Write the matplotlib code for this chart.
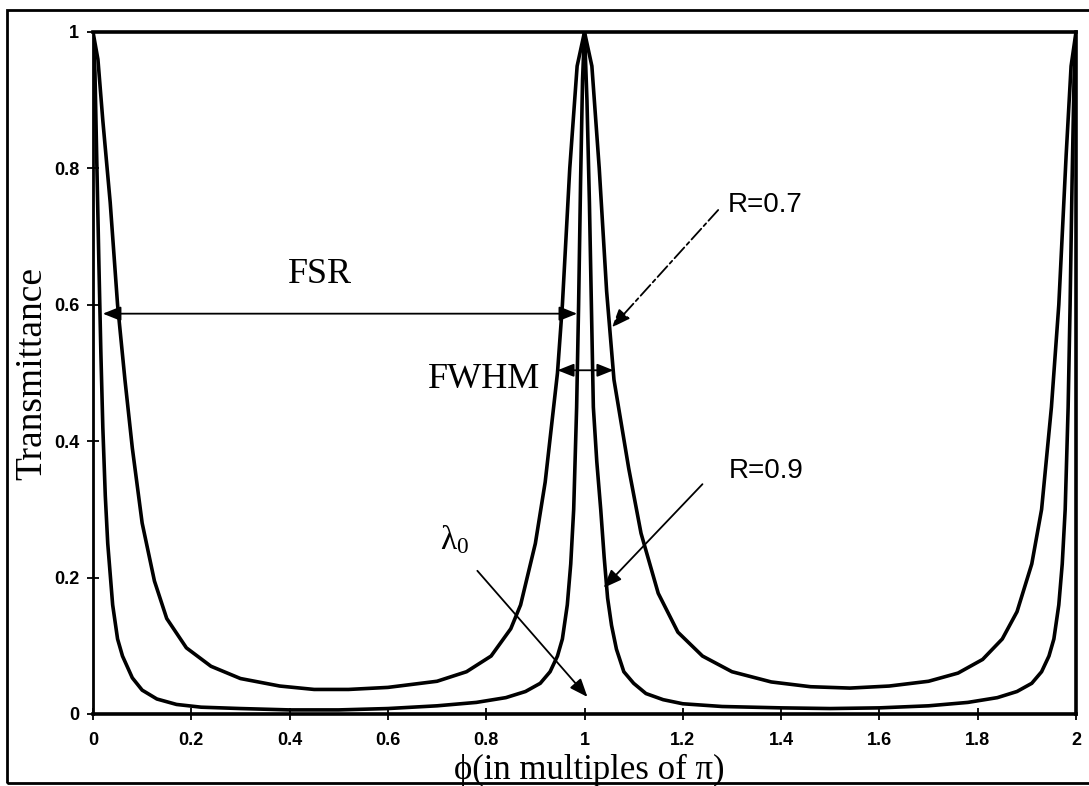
import matplotlib
matplotlib.use("Agg")
import matplotlib.pyplot as plt
from matplotlib.patches import Rectangle

plt.rcParams['mathtext.fontset'] = 'custom'
plt.rcParams['mathtext.rm'] = 'Liberation Serif'
plt.rcParams['mathtext.it'] = 'Liberation Serif'

# values (phase in multiples of pi, transmittance)
phi_r07 = [0, 0.01, 0.02, 0.035, 0.05, 0.065, 0.08, 0.1, 0.125, 0.15, 0.19, 0.24, 0.3,
           0.38, 0.45, 0.52, 0.6, 0.7, 0.76, 0.81, 0.85, 0.87, 0.9, 0.92, 0.945, 0.955,
           0.97, 0.985, 1.0, 1.015, 1.03, 1.045, 1.06, 1.09, 1.115, 1.15, 1.19, 1.24,
           1.3, 1.38, 1.46, 1.54, 1.62, 1.7, 1.76, 1.81, 1.85, 1.88, 1.91, 1.93, 1.95,
           1.965, 1.98, 1.99, 2.0]
t_r07 = [1.0, 0.96, 0.87, 0.75, 0.6, 0.49, 0.39, 0.28, 0.195, 0.14, 0.097, 0.07, 0.052,
         0.041, 0.036, 0.036, 0.039, 0.048, 0.062, 0.085, 0.125, 0.16, 0.25, 0.34, 0.5, 0.6,
         0.8, 0.95, 1.0, 0.95, 0.8, 0.62, 0.49, 0.36, 0.265, 0.177, 0.12, 0.085,
         0.062, 0.047, 0.04, 0.038, 0.041, 0.048, 0.06, 0.08, 0.11, 0.15, 0.22, 0.3, 0.45,
         0.6, 0.82, 0.95, 1.0]

phi_r09 = [0, 0.004, 0.008, 0.012, 0.016, 0.02, 0.025, 0.03, 0.04, 0.05, 0.06, 0.08, 0.1,
           0.13, 0.17, 0.22, 0.3, 0.4, 0.5, 0.6, 0.7, 0.78, 0.84, 0.88, 0.91, 0.93, 0.945,
           0.955, 0.965, 0.972, 0.978, 0.984, 0.988, 0.992, 0.996, 1.0,
           1.005, 1.01, 1.014, 1.018, 1.025, 1.033, 1.04, 1.047, 1.055, 1.065, 1.08, 1.1,
           1.125, 1.16, 1.2, 1.28, 1.4, 1.5, 1.6, 1.7, 1.78, 1.84, 1.88, 1.91, 1.93, 1.945,
           1.955, 1.965, 1.972, 1.978, 1.984, 1.988, 1.992, 1.996, 2.0]
t_r09 = [1.0, 0.94, 0.8, 0.66, 0.53, 0.42, 0.32, 0.25, 0.16, 0.11, 0.085, 0.053, 0.035,
         0.022, 0.014, 0.01, 0.008, 0.006, 0.006, 0.008, 0.012, 0.017, 0.024, 0.033, 0.045,
         0.062, 0.085, 0.11, 0.16, 0.22, 0.3, 0.45, 0.6, 0.78, 0.93, 1.0,
         0.9, 0.75, 0.6, 0.45, 0.37, 0.3, 0.23, 0.17, 0.13, 0.095, 0.062, 0.045,
         0.03, 0.021, 0.015, 0.011, 0.009, 0.008, 0.009, 0.012, 0.017, 0.024, 0.033, 0.045,
         0.062, 0.085, 0.11, 0.16, 0.22, 0.3, 0.45, 0.6, 0.78, 0.93, 1.0]

xticks = [0, 0.2, 0.4, 0.6, 0.8, 1, 1.2, 1.4, 1.6, 1.8, 2]
xtick_labels = ['0', '0.2', '0.4', '0.6', '0.8', '1', '1.2', '1.4', '1.6', '1.8', '2']
yticks = [0, 0.2, 0.4, 0.6, 0.8, 1]
ytick_labels = ['0', '0.2', '0.4', '0.6', '0.8', '1']

serif = ['Liberation Serif', 'DejaVu Serif']
sans = ['Liberation Sans', 'DejaVu Sans']

fig = plt.figure(figsize=(10.89, 7.86), dpi=100)
ax = fig.add_axes([93 / 1089, 1 - 714 / 786, (1076 - 93) / 1089, (714 - 32) / 786])

ax.plot(phi_r07, t_r07, color='black', lw=2.6, solid_joinstyle='round')
ax.plot(phi_r09, t_r09, color='black', lw=2.6, solid_joinstyle='round')

ax.set_xlim(0, 2)
ax.set_ylim(0, 1)
ax.set_xticks(xticks)
ax.set_xticklabels(xtick_labels)
ax.set_yticks(yticks)
ax.set_yticklabels(ytick_labels)
for lab in ax.get_xticklabels() + ax.get_yticklabels():
    lab.set_family(sans)
    lab.set_fontweight('bold')
    lab.set_fontsize(13)
ax.tick_params(direction='inout', length=8, width=1.3, pad=6)
ax.tick_params(axis='x', pad=9)
for side in ['left', 'bottom', 'top', 'right']:
    ax.spines[side].set_linewidth(2.6)
ax.spines['left'].set_linewidth(2.0)

# outer frame of the scanned figure
fig.patches.append(Rectangle((7 / 1089, 3 / 786), 1.0, 773 / 786, transform=fig.transFigure,
                             fill=False, lw=2.0, edgecolor='black'))

fig.text(32 / 1089, 1 - 373 / 786, 'Transmittance', rotation=90, ha='center', va='center',
         fontsize=27, family=serif)
fig.text(589 / 1089, 1 - 779 / 786, 'ϕ(in multiples of π)', ha='center', va='baseline',
         fontsize=25, family=serif)

head = '-|>,head_length=0.55,head_width=0.22'
dhead = '<|-|>,head_length=0.55,head_width=0.22'

# FSR
ax.text(0.462, 0.644, 'FSR', ha='center', va='center', fontsize=26, family=serif)
ax.annotate('', xy=(0.02, 0.587), xytext=(0.985, 0.587),
            arrowprops=dict(arrowstyle=dhead, lw=1.3, color='black', mutation_scale=20,
                            shrinkA=0, shrinkB=0))
# FWHM
ax.text(0.796, 0.491, 'FWHM', ha='center', va='center', fontsize=26, family=serif)
ax.annotate('', xy=(0.945, 0.504), xytext=(1.059, 0.504),
            arrowprops=dict(arrowstyle=dhead, lw=1.3, color='black', mutation_scale=18,
                            shrinkA=0, shrinkB=0))
# R=0.7
ax.text(1.292, 0.746, 'R=0.7', ha='left', va='center', fontsize=20, family=sans)
ax.annotate('', xy=(1.056, 0.567), xytext=(1.272, 0.739),
            arrowprops=dict(arrowstyle=head, lw=1.3, color='black', mutation_scale=20,
                            linestyle=(0, (8, 2, 2, 2)), shrinkA=0, shrinkB=0))
# R=0.9
ax.text(1.369, 0.356, 'R=0.9', ha='center', va='center', fontsize=20, family=sans)
ax.annotate('', xy=(1.039, 0.185), xytext=(1.240, 0.337),
            arrowprops=dict(arrowstyle=head, lw=1.3, color='black', mutation_scale=20,
                            shrinkA=0, shrinkB=0))
# lambda_0
ax.text(0.735, 0.255, r'$\lambda_0$', ha='center', va='center', fontsize=24)
ax.annotate('', xy=(1.006, 0.025), xytext=(0.782, 0.21),
            arrowprops=dict(arrowstyle=head, lw=1.3, color='black', mutation_scale=20,
                            shrinkA=0, shrinkB=0))

fig.savefig('out.png', dpi=100)
